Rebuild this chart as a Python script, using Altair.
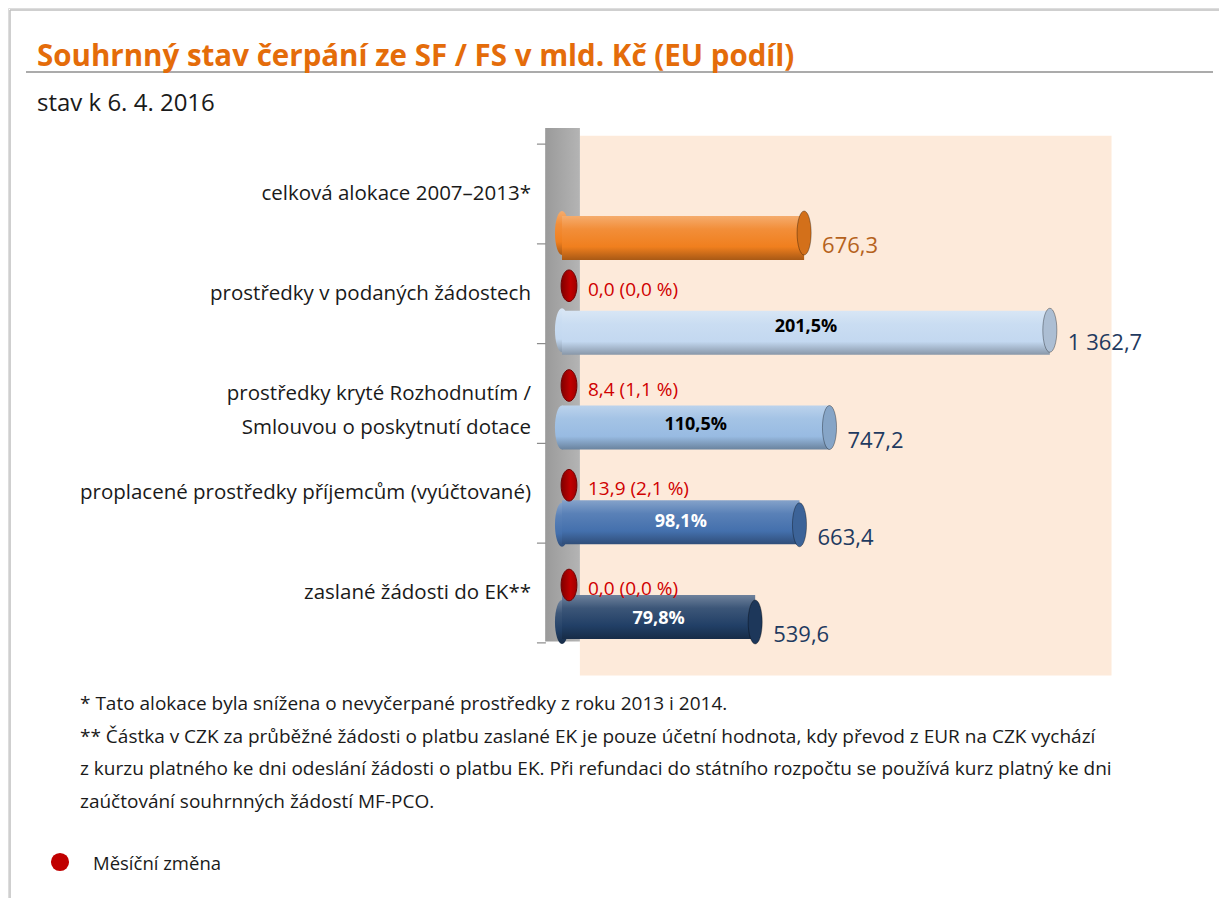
import altair as alt
import pandas as pd

# ---------------- data ----------------
categories = [
    "celková alokace 2007–2013*",
    "prostředky v podaných žádostech",
    "prostředky kryté Rozhodnutím /\nSmlouvou o poskytnutí dotace ",
    "proplacené prostředky příjemcům (vyúčtované)",
    "zaslané žádosti do EK**",
]
values = [676.3, 1362.7, 747.2, 663.4, 539.6]
monthly_change = [None, 0.0, 8.4, 13.9, 0.0]
monthly_change_pct = [None, 0.0, 1.1, 2.1, 0.0]

title_text = "Souhrnný stav čerpání ze SF / FS v mld. Kč (EU podíl)"
subtitle_text = "stav k 6. 4. 2016"
footnotes = [
    "* Tato alokace byla snížena o nevyčerpané prostředky z roku 2013 i 2014.",
    "** Částka v CZK za průběžné žádosti o platbu zaslané EK je pouze účetní hodnota, kdy převod z EUR na CZK vychází",
    "z kurzu platného ke dni odeslání žádosti o platbu EK. Při refundaci do státního  rozpočtu se používá kurz platný ke dni",
    "zaúčtování souhrnných žádostí MF-PCO.",
]
legend_label = "Měsíční změna"

# ---------------- styles ----------------
bar_colors = ["#F07F1E", "#C3D8F0", "#98BBE2", "#4470AD", "#213F66"]
pct_colors = ["#000000", "#000000", "#000000", "#FFFFFF", "#FFFFFF"]
value_colors = ["#B5621C", "#1F3A60", "#1F3A60", "#1F3A60", "#1F3A60"]
FONT = "Open Sans"


def mix(h, target, a):
    h = h.lstrip("#")
    c = [int(h[i:i + 2], 16) for i in (0, 2, 4)]
    t = [255, 255, 255] if target == "white" else [0, 0, 0]
    return "#" + "".join(f"{round(ci + (ti - ci) * a):02X}" for ci, ti in zip(c, t))


def cz(v):
    return f"{v:,.1f}".replace(",", " ").replace(".", ",")


rows = list(range(len(categories)))
df = pd.DataFrame({
    "row": rows,
    "cat": categories,
    "value": values,
    "vlabel": [cz(v) for v in values],
    "plabel": ["" if i == 0 else f"{v / values[0] * 100:.1f}%".replace(".", ",") for i, v in enumerate(values)],
    "clabel": ["" if c is None else f"{cz(c)} ({cz(p)} %)" for c, p in zip(monthly_change, monthly_change_pct)],
    "has_change": [c is not None for c in monthly_change],
})

one = pd.DataFrame({"k": [0]})

# value scale and two row scales (bars / category texts), as in the 3-D original
xs = alt.Scale(domain=[0, 1400], range=[554, 554 + 1400 * 0.358], nice=False, zero=False)
ys = alt.Scale(domain=[0, 4], range=[225, 614], nice=False, zero=False)
ys_lab = alt.Scale(domain=[0, 4], range=[186, 585], nice=False, zero=False)

base = alt.Chart(df).transform_calculate(zero="0", half="datum.value / 2")
X = lambda f: alt.X(f, type="quantitative", scale=xs, axis=None)
Y = alt.Y("row:Q", scale=ys, axis=None)
YL = alt.Y("row:Q", scale=ys_lab, axis=None)

ellipse_cap = "M0,-1 A0.32,1 0 1,1 0,1 A0.32,1 0 1,1 0,-1 Z"
ellipse_dot = "M0,-1 A0.5,1 0 1,1 0,1 A0.5,1 0 1,1 0,-1 Z"

bg = alt.Chart(one).mark_rect(color="#FDEADA").encode(
    x=alt.X(datum=50, type="quantitative", scale=xs, axis=None),
    x2=alt.X2(datum=1535),
    y=alt.Y(datum=-1.0, type="quantitative", scale=ys, axis=None),
    y2=alt.Y2(datum=4.55),
)
wall = alt.Chart(one).mark_rect(
    color=alt.Gradient(gradient="linear", x1=0, x2=1, y1=0, y2=0,
                       stops=[alt.GradientStop(offset=0, color="#9A9A9A"),
                              alt.GradientStop(offset=1, color="#B4B4B4")])).encode(
    x=alt.X(datum=-47, type="quantitative", scale=xs, axis=None),
    x2=alt.X2(datum=50),
    y=alt.Y(datum=-1.08, type="quantitative", scale=ys, axis=None),
    y2=alt.Y2(datum=4.2),
)
wall_ticks = alt.Chart(pd.DataFrame({"t": [-0.5, 0.5, 1.5, 2.5, 3.5, 4.5]})).mark_rule(
    color="#8C8C8C", strokeWidth=1.2).encode(
    x=alt.X(datum=-70, type="quantitative", scale=xs, axis=None),
    x2=alt.X2(datum=-45),
    y=alt.Y("t:Q", scale=ys_lab, axis=None),
)

cap_color = alt.Color("row:O", scale=alt.Scale(domain=rows, range=[mix(c, "black", 0.12) for c in bar_colors]), legend=None)

bar_layers = []
for i, c in enumerate(bar_colors):
    grad = alt.Gradient(
        gradient="linear", x1=0, x2=0, y1=0, y2=1,
        stops=[alt.GradientStop(offset=0, color=mix(c, "white", 0.35)),
               alt.GradientStop(offset=0.3, color=mix(c, "white", 0.12)),
               alt.GradientStop(offset=0.7, color=c),
               alt.GradientStop(offset=1, color=mix(c, "black", 0.3))])
    sub = base.transform_filter(f"datum.row == {i}")
    bar_layers.append(
        sub.mark_point(shape=ellipse_cap, size=44 * 44, filled=True, opacity=1, color=grad).encode(
            x=X("zero"), y=Y))
    bar_layers.append(
        sub.mark_bar(size=44, orient="horizontal", color=grad).encode(
            x=X("value"), x2="zero", y=Y))

end_cap = base.mark_point(shape=ellipse_cap, size=44 * 44, filled=True, opacity=1,
                          stroke="#00000055", strokeWidth=1).encode(
    x=X("value"), y=Y, color=cap_color)

dots = base.transform_filter("datum.has_change").mark_point(
    shape=ellipse_dot, size=1000, filled=True, stroke="#6E0000", strokeWidth=1, opacity=1, xOffset=7,
    color=alt.Gradient(gradient="linear", x1=0, x2=1, y1=0, y2=0,
                       stops=[alt.GradientStop(offset=0, color="#7F0000"),
                              alt.GradientStop(offset=0.6, color="#C00000"),
                              alt.GradientStop(offset=1, color="#A00000")])).encode(
    x=X("zero"), y=YL, yOffset=alt.value(-8))
change_labels = base.transform_filter("datum.has_change").mark_text(
    align="left", baseline="middle", dx=26, dy=-4, fontSize=19, font=FONT, color="#D00000").encode(
    x=X("zero"), y=YL, text="clabel:N")

cat_labels = base.mark_text(
    align="right", baseline="middle", fontSize=20.5, font=FONT, color="#1A1A1A",
    lineBreak="\n", lineHeight=34).encode(x=alt.value(523), y=YL, text="cat:N")

pct_labels = base.transform_filter("datum.row > 0").mark_text(
    align="center", baseline="middle", dy=-3, fontSize=18, fontWeight="bold", font=FONT).encode(
    x=X("half"), y=Y, text="plabel:N",
    color=alt.Color("row:O", scale=alt.Scale(domain=rows, range=pct_colors), legend=None))
value_labels = base.mark_text(
    align="left", baseline="middle", dx=18, dy=13, fontSize=22, font=FONT).encode(
    x=X("value"), y=Y, text="vlabel:N",
    color=alt.Color("row:O", scale=alt.Scale(domain=rows, range=value_colors), legend=None))

# frame & text decorations
frame_left = alt.Chart(one).mark_rule(color="#BFBFBF", strokeWidth=1.5).encode(
    x=alt.value(2), y=alt.value(2), y2=alt.value(900))
frame_top = alt.Chart(one).mark_rule(color="#BFBFBF", strokeWidth=1.5).encode(
    x=alt.value(2), x2=alt.value(1219), y=alt.value(2))
underline = alt.Chart(one).mark_rule(color="#ABABAB", strokeWidth=2).encode(
    x=alt.value(18), x2=alt.value(1205), y=alt.value(64))
title = alt.Chart(one).mark_text(
    text=title_text, align="left", baseline="alphabetic", fontSize=29.5, fontWeight="bold",
    font=FONT, color="#E46C0A").encode(x=alt.value(29), y=alt.value(58))
subtitle = alt.Chart(one).mark_text(
    text=subtitle_text, align="left", baseline="alphabetic", fontSize=24,
    font=FONT, color="#1A1A1A").encode(x=alt.value(29), y=alt.value(103))
notes = alt.Chart(one).mark_text(
    text="\n".join(footnotes), lineBreak="\n", lineHeight=32.7, align="left", baseline="alphabetic",
    fontSize=19, font=FONT, color="#1A1A1A").encode(x=alt.value(72), y=alt.value(702))
legend_dot = alt.Chart(one).mark_point(shape="circle", size=330, filled=True, color="#C00000", opacity=1).encode(
    x=alt.value(52), y=alt.value(854))
legend_text = alt.Chart(one).mark_text(
    text=legend_label, align="left", baseline="middle", fontSize=18.5, font=FONT, color="#1A1A1A").encode(
    x=alt.value(85), y=alt.value(856))

chart = alt.layer(
    frame_left, frame_top, underline, title, subtitle,
    bg, wall, wall_ticks,
    *bar_layers, end_cap,
    dots, change_labels, cat_labels, pct_labels, value_labels,
    notes, legend_dot, legend_text,
).resolve_scale(color="independent", y="independent").properties(
    width=1211, height=890, padding=0, autosize=alt.AutoSizeParams(type="none"),
).configure_view(stroke=None).configure(background="white")

chart.save("out.html", embed_options={"renderer": "svg", "actions": False})
